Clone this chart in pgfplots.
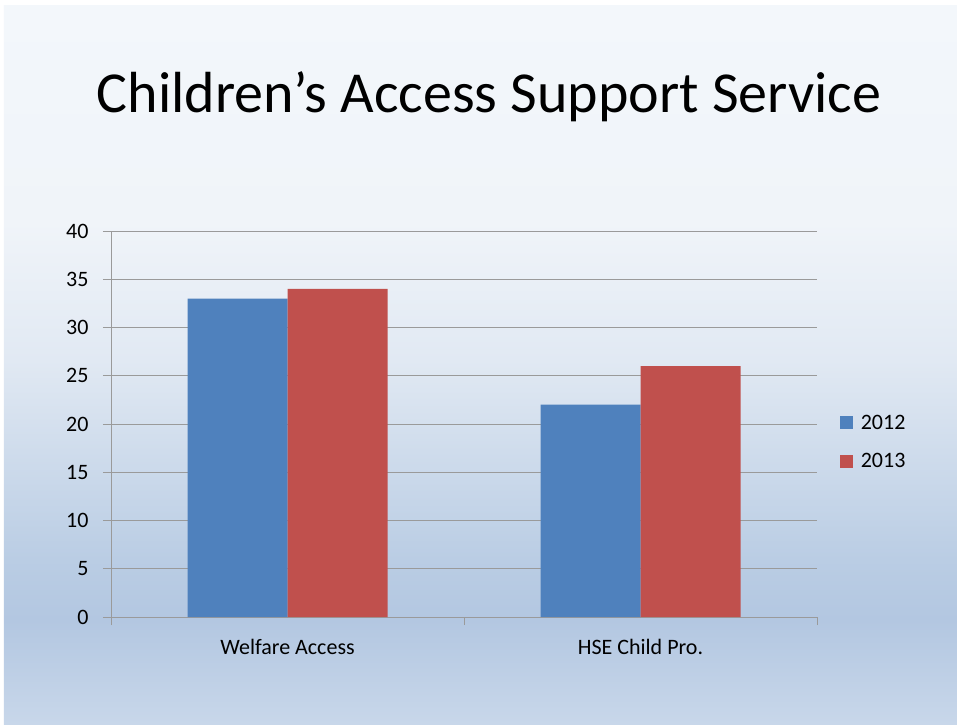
\documentclass[border=0pt]{standalone}
\usepackage{pgfplots}
\pgfplotsset{compat=1.18}
\usepackage{fontspec}
\setmainfont{Carlito}
\definecolor{bblue}{HTML}{4F81BD}
\definecolor{bred}{HTML}{C0504D}
\definecolor{gridc}{HTML}{9A9A9A}
\definecolor{bgA}{HTML}{C8D7EA}
\definecolor{bgB}{HTML}{B3C7E1}
\definecolor{bgC}{HTML}{BACDE4}
\definecolor{bgD}{HTML}{CFDCEC}
\definecolor{bgE}{HTML}{E1E9F3}
\definecolor{bgF}{HTML}{F0F4F9}
\definecolor{bgG}{HTML}{F3F7FB}
\pgfdeclareverticalshading{slidebg}{100bp}{color(0bp)=(bgA); color(25bp)=(bgA); color(32.25bp)=(bgB); color(36.5bp)=(bgC); color(44bp)=(bgD); color(50.35bp)=(bgE); color(60bp)=(bgF); color(75bp)=(bgG); color(100bp)=(bgG)}
\begin{document}
\begin{tikzpicture}
\fill[white] (-111pt,-107pt) rectangle (846pt,617pt);
\shade[shading=slidebg] (-107pt,-107pt) rectangle (846pt,611pt);
\node[anchor=base, font=\fontsize{58}{62}\selectfont, inner sep=0] at (378pt,504pt) {Children’s Access Support Service};
\begin{axis}[
  at={(0pt,0pt)}, anchor=south west,
  scale only axis, width=706pt, height=386pt,
  xmin=-0.5, xmax=1.5, ymin=0, ymax=40,
  ytick={0,5,...,40},
  xtick={-0.5,0.5,1.5}, xticklabels={},
  extra x ticks={0,1},
  extra x tick labels={Welfare Access, HSE Child Pro.},
  extra x tick style={major tick length=0pt, grid=none},
  axis x line*=bottom, axis y line*=left,
  axis line style={gridc, line width=0.9pt, -},
  tick style={gridc, line width=0.9pt},
  major tick length=8pt,
  tick align=outside,
  ymajorgrids,
  grid style={gridc, line width=0.9pt},
  ybar=0pt, bar width=100pt,
  /pgf/number format/assume math mode=true,
  tick label style={font=\fontsize{22}{24}\selectfont, black},
  yticklabel style={xshift=-11pt},
  xticklabel style={yshift=-19pt},
  legend style={at={(1.032,0.453)}, anchor=west, draw=none, fill=none, inner sep=0pt,
    font=\fontsize{22}{24}\selectfont, row sep=19pt, column sep=6pt},
  legend cell align=left,
]
\addplot[fill=bblue, draw=none, legend image code/.code={\fill[bblue] (0pt,-6.5pt) rectangle (13pt,6.5pt);}] coordinates {(0,33) (1,22)};
\addplot[fill=bred, draw=none, legend image code/.code={\fill[bred] (0pt,-6.5pt) rectangle (13pt,6.5pt);}] coordinates {(0,34) (1,26)};
\addlegendentry{2012}
\addlegendentry{2013}
\end{axis}
\end{tikzpicture}
\end{document}
